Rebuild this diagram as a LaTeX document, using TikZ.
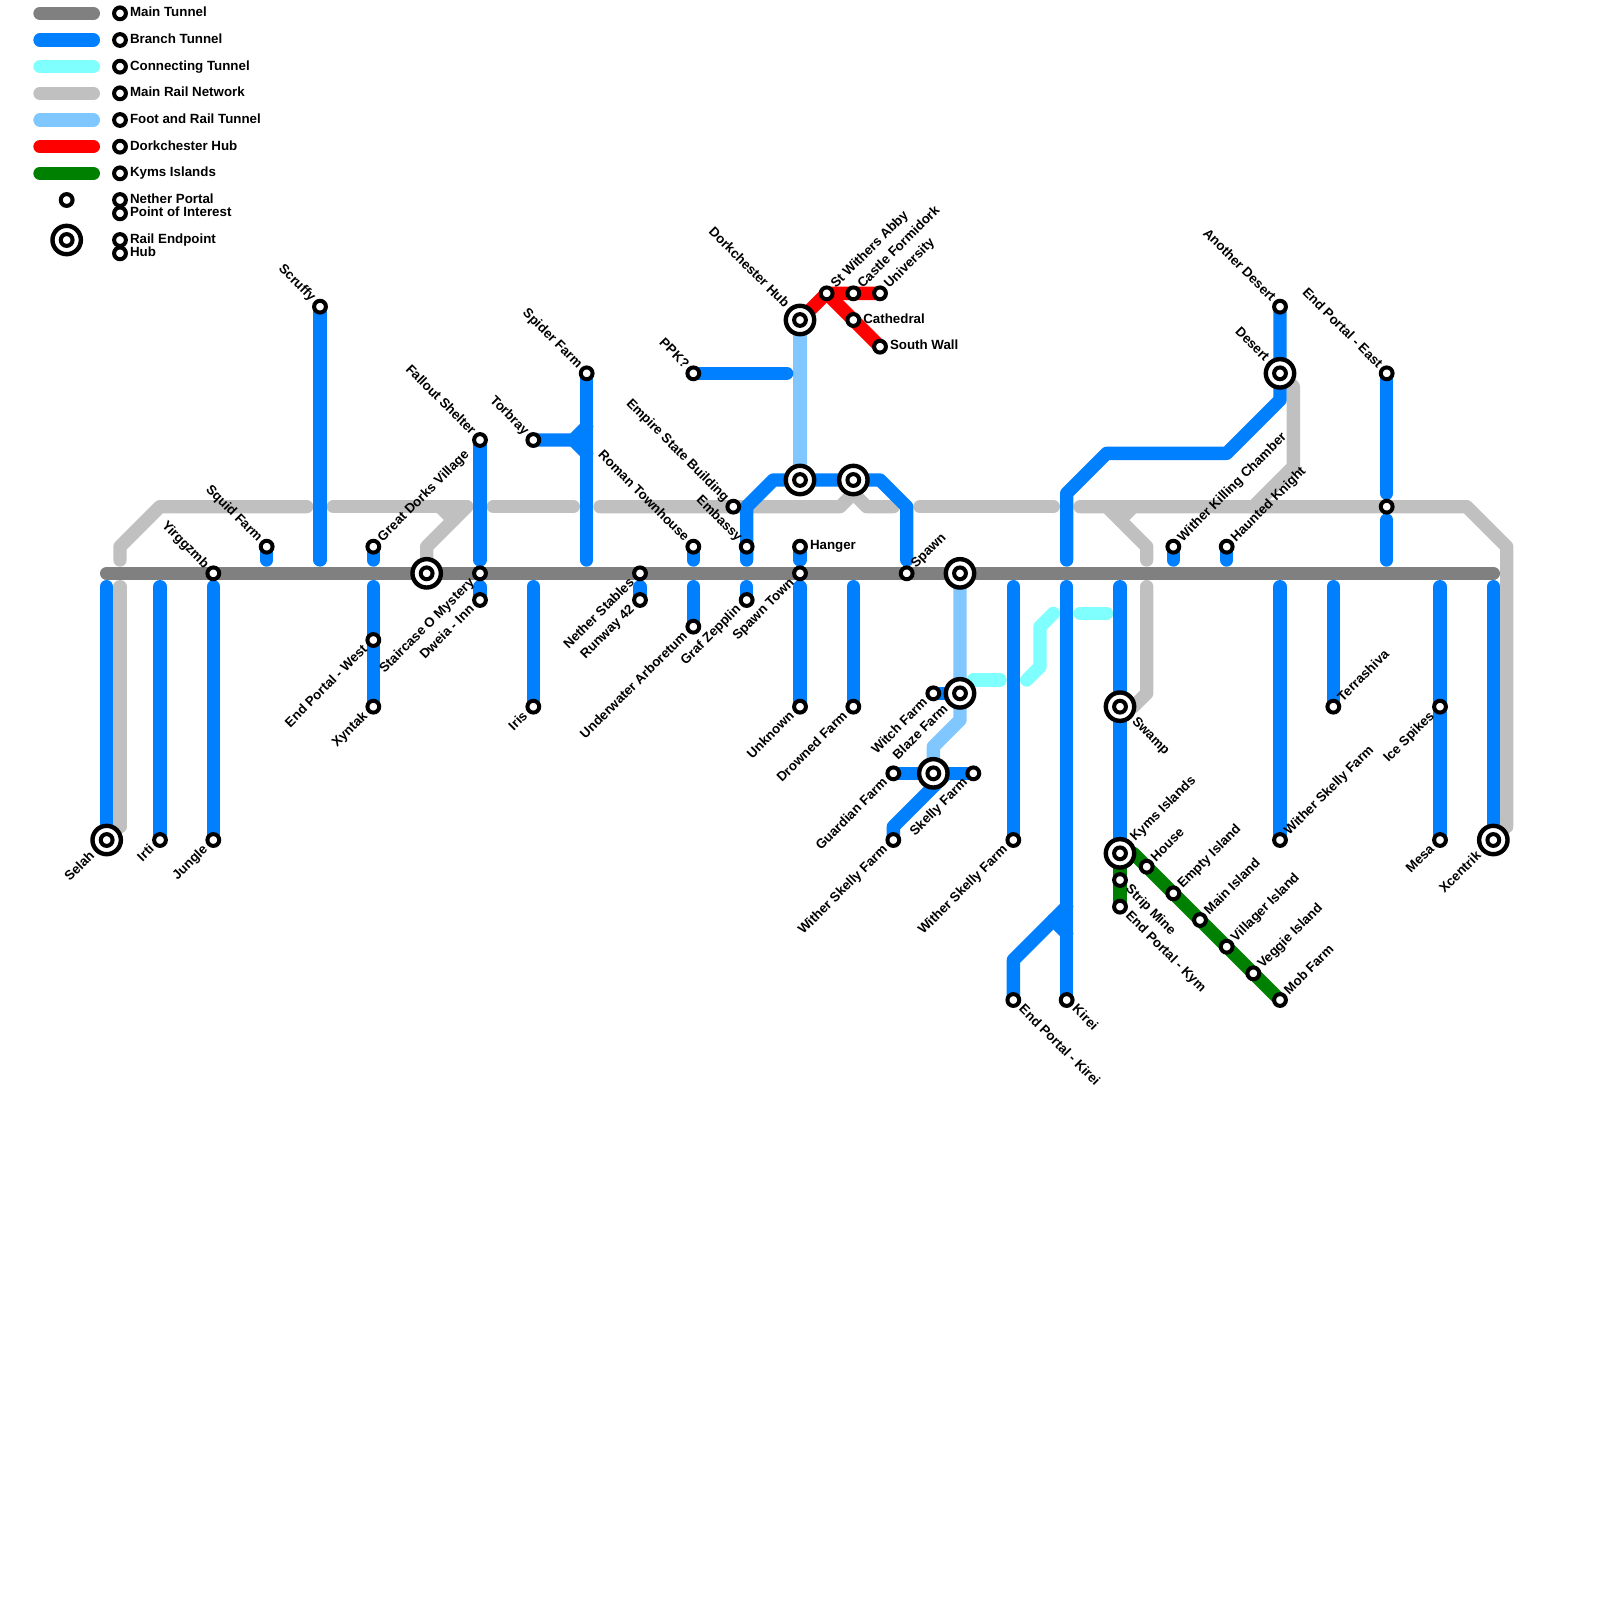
\documentclass[tikz,border=0pt]{standalone}
\usepackage{fontspec}
\setmainfont{Liberation Sans}
\usetikzlibrary{backgrounds}
\definecolor{mainc}{HTML}{808080}
\definecolor{branchc}{HTML}{0080FF}
\definecolor{connc}{HTML}{80FFFF}
\definecolor{railc}{HTML}{C0C0C0}
\definecolor{footc}{HTML}{80C6FF}
\definecolor{redc}{HTML}{FF0000}
\definecolor{greenc}{HTML}{008000}
\tikzset{
  x=13.3333pt,y=-13.3333pt,
  tube/.style={line width=13.333pt,line cap=round,line join=round},
  maint/.style={tube,draw=mainc},
  brancht/.style={tube,draw=branchc},
  connt/.style={tube,draw=connc},
  railt/.style={tube,draw=railc},
  foott/.style={tube,draw=footc},
  redt/.style={tube,draw=redc},
  greent/.style={tube,draw=greenc},
  stn/.style={circle,draw=black,fill=white,line width=4pt,minimum size=11.8pt,inner sep=0pt,outer sep=0pt},
  hubo/.style={circle,draw=black,fill=white,line width=4.4pt,minimum size=28.4pt,inner sep=0pt,outer sep=0pt},
  lbl/.style={font=\bfseries\fontsize{13.33}{13.33}\selectfont,inner sep=0pt,outer sep=0pt,text height=9.5pt,text depth=2.5pt},
  NE/.style={lbl,xshift=7pt,yshift=7pt,rotate=45,anchor=west},
  NW/.style={lbl,xshift=-7pt,yshift=7pt,rotate=-45,anchor=east},
  SW/.style={lbl,xshift=-7.7pt,yshift=-7.7pt,rotate=45,anchor=east},
  SE/.style={lbl,xshift=7.5pt,yshift=-7.5pt,rotate=-45,anchor=west},
  EE/.style={lbl,xshift=10pt,yshift=0.5pt,anchor=west},
  NEh/.style={lbl,xshift=13pt,yshift=14pt,rotate=45,anchor=west},
  NWh/.style={lbl,xshift=-13.5pt,yshift=14pt,rotate=-45,anchor=east},
  SWh/.style={lbl,xshift=-14pt,yshift=-14pt,rotate=45,anchor=east},
  SEh/.style={lbl,xshift=14pt,yshift=-13pt,rotate=-45,anchor=west},
}
\newcommand{\Sta}[4]{\node[stn] (#1) at (#2) {}; \node[#3] (#1L) at (#1.center) {#4};}
\newcommand{\Bare}[2]{\node[stn] (#1) at (#2) {};}
\newcommand{\Hub}[4]{\node[hubo] (#1) at (#2) {}; \node[stn] (#1I) at (#2) {}; \node[#3] (#1L) at (#1.center) {#4};}
\newcommand{\BareHub}[2]{\node[hubo] (#1) at (#2) {}; \node[stn] (#1I) at (#2) {};}
\newcommand{\Leg}[4]{\coordinate (#1a) at (3,#2); \coordinate (#1b) at (7,#2); \draw[#3] (#1a) -- (#1b); \node[stn] (#1s) at (9,#2) {}; \node[lbl,anchor=west] (#1t) at (9.75,#2) {#4};}
\begin{document}
\begin{tikzpicture}
\useasboundingbox (0,0) rectangle (120,120);
% legend
\Leg{la}{1}{maint}{Main Tunnel}
\Leg{lb}{3}{brancht}{Branch Tunnel}
\Leg{lc}{5}{connt}{Connecting Tunnel}
\Leg{ld}{7}{railt}{Main Rail Network}
\Leg{le}{9}{foott}{Foot and Rail Tunnel}
\Leg{lf}{11}{redt}{Dorkchester Hub}
\Leg{lg}{13}{greent}{Kyms Islands}
\node[stn] (lhS) at (5,15) {};
\node[stn] (lh1) at (9,15) {};
\node[lbl,anchor=west] (lh1t) at (9.75,15) {Nether Portal};
\node[stn] (lh2) at (9,16) {};
\node[lbl,anchor=west] (lh2t) at (9.75,16) {Point of Interest};
\BareHub{liH}{5,18}
\node[stn] (li1) at (9,18) {};
\node[lbl,anchor=west] (li1t) at (9.75,18) {Rail Endpoint};
\node[stn] (li2) at (9,19) {};
\node[lbl,anchor=west] (li2t) at (9.75,19) {Hub};
% stations
\Hub{selah}{8,63}{SWh}{Selah}
\Sta{irti}{12,63}{SW}{Irti}
\Sta{jungle}{16,63}{SW}{Jungle}
\Sta{yirg}{16,43}{NW}{Yirggzmb}
\Sta{squid}{20,41}{NW}{Squid Farm}
\Sta{scruffy}{24,23}{NW}{Scruffy}
\Sta{dorks}{28,41}{NE}{Great Dorks Village}
\Sta{epwest}{28,48}{SW}{End Portal - West}
\Sta{xyntak}{28,53}{SW}{Xyntak}
\BareHub{railA}{32,43}
\Sta{stair}{36,43}{SW}{Staircase O Mystery}
\Sta{dweia}{36,45}{SW}{Dweia - Inn}
\Sta{fallout}{36,33}{NW}{Fallout Shelter}
\Sta{iris}{40,53}{SW}{Iris}
\Sta{torbray}{40,33}{NW}{Torbray}
\Sta{spider}{44,28}{NW}{Spider Farm}
\Sta{nether}{48,43}{SW}{Nether Stables}
\Sta{runway}{48,45}{SW}{Runway 42}
\Sta{roman}{52,41}{NW}{Roman Townhouse}
\Sta{arbor}{52,47}{SW}{Underwater Arboretum}
\Sta{ppk}{52,28}{NW}{PPK?}
\Sta{empire}{55,38}{NW}{Empire State Building}
\Sta{embassy}{56,41}{NW}{Embassy}
\Sta{graf}{56,45}{SW}{Graf Zepplin}
\Sta{hanger}{60,41}{EE}{Hanger}
\Sta{spawnt}{60,43}{SW}{Spawn Town}
\Sta{unknown}{60,53}{SW}{Unknown}
\Sta{drowned}{64,53}{SW}{Drowned Farm}
\Sta{spawn}{68,43}{NE}{Spawn}
\Hub{dork}{60,24}{NWh}{Dorkchester Hub}
\BareHub{hubB}{60,36}
\BareHub{hubC}{64,36}
\Sta{abby}{62,22}{NE}{St Withers Abby}
\Sta{castle}{64,22}{NE}{Castle Formidork}
\Sta{univ}{66,22}{NE}{University}
\Sta{cathed}{64,24}{EE}{Cathedral}
\Sta{south}{66,26}{EE}{South Wall}
\BareHub{hubD}{72,43}
\Hub{blaze}{72,52}{SWh}{Blaze Farm}
\Sta{witch}{70,52}{SW}{Witch Farm}
\BareHub{hubE}{70,58}
\Sta{guardian}{67,58}{SW}{Guardian Farm}
\Sta{skelly}{73,58}{SW}{Skelly Farm}
\Sta{wsfA}{67,63}{SW}{Wither Skelly Farm}
\Sta{wsfB}{76,63}{SW}{Wither Skelly Farm}
\Sta{epkirei}{76,75}{SE}{End Portal - Kirei}
\Sta{kirei}{80,75}{SE}{Kirei}
\Hub{swamp}{84,53}{SEh}{Swamp}
\Hub{kyms}{84,64}{NEh}{Kyms Islands}
\Sta{strip}{84,66}{SE}{Strip Mine}
\Sta{epkym}{84,68}{SE}{End Portal - Kym}
\Sta{house}{86,65}{NE}{House}
\Sta{empty}{88,67}{NE}{Empty Island}
\Sta{mainis}{90,69}{NE}{Main Island}
\Sta{villager}{92,71}{NE}{Villager Island}
\Sta{veggie}{94,73}{NE}{Veggie Island}
\Sta{mob}{96,75}{NE}{Mob Farm}
\Sta{wkc}{88,41}{NE}{Wither Killing Chamber}
\Sta{haunted}{92,41}{NE}{Haunted Knight}
\Sta{another}{96,23}{NW}{Another Desert}
\Hub{desert}{96,28}{NWh}{Desert}
\Sta{epeast}{104,28}{NW}{End Portal - East}
\Bare{eastmid}{104,38}
\Sta{wsfC}{96,63}{NE}{Wither Skelly Farm}
\Sta{terra}{100,53}{NE}{Terrashiva}
\Sta{ice}{108,53}{SW}{Ice Spikes}
\Sta{mesa}{108,63}{SW}{Mesa}
\Hub{xcen}{112,63}{SWh}{Xcentrik}
% free ends
\coordinate (mA) at (8,43); \coordinate (mB) at (112,43);
\coordinate (e08) at (8,44); \coordinate (e09) at (9,44); \coordinate (e09b) at (9,62);
\coordinate (e09c) at (9,42); \coordinate (e12) at (12,44); \coordinate (e16) at (16,44);
\coordinate (e20) at (20,42); \coordinate (e24) at (24,42); \coordinate (e28a) at (28,42);
\coordinate (e28b) at (28,44); \coordinate (e36a) at (36,42); \coordinate (e36b) at (36,44);
\coordinate (e40) at (40,44); \coordinate (e44) at (44,42); \coordinate (e48) at (48,44);
\coordinate (e52a) at (52,42); \coordinate (e52b) at (52,44); \coordinate (e56a) at (56,42);
\coordinate (e56b) at (56,44); \coordinate (e59) at (59,28); \coordinate (e60a) at (60,42);
\coordinate (e60b) at (60,44); \coordinate (e64) at (64,44); \coordinate (e68) at (68,42);
\coordinate (e76) at (76,44); \coordinate (e80a) at (80,44); \coordinate (e80b) at (80,42);
\coordinate (e84) at (84,44); \coordinate (e86a) at (86,44); \coordinate (e86b) at (86,42);
\coordinate (e88) at (88,42); \coordinate (e92) at (92,42); \coordinate (e96) at (96,44);
\coordinate (e100) at (100,44); \coordinate (e104a) at (104,37); \coordinate (e104b) at (104,39);
\coordinate (e104c) at (104,42); \coordinate (e108) at (108,44); \coordinate (e112) at (112,44);
\coordinate (e113) at (113,62); \coordinate (t1) at (44,32); \coordinate (t2) at (44,34);
\coordinate (r1) at (23,38); \coordinate (r2) at (25,38); \coordinate (r3) at (35,38);
\coordinate (r4) at (37,38); \coordinate (r5) at (43,38); \coordinate (r6) at (45,38);
\coordinate (r7) at (67,38); \coordinate (r8) at (69,38); \coordinate (r9) at (79,38);
\coordinate (r10) at (81,38); \coordinate (r11) at (94,38); \coordinate (r12) at (33,38);
\coordinate (r13) at (32,42); \coordinate (r14) at (85,38); \coordinate (r15) at (83,38);
\coordinate (c1) at (73,51); \coordinate (c2) at (75,51); \coordinate (c3) at (77,51);
\coordinate (c4) at (79,46); \coordinate (c5) at (81,46); \coordinate (c6) at (83,46);
\coordinate (k1) at (79,69); \coordinate (k2) at (80,70); \coordinate (g1) at (85,64);
\begin{pgfonlayer}{background}
% rail
\draw[railt] (e09) -- (e09b);
\draw[railt] (e09c) -- (9,41) -- (12,38) -- (r1);
\draw[railt] (r2) -- (r3);
\draw[railt] (r3) -- (32,41) -- (r13);
\draw[railt] (r12) -- (34,39);
\draw[railt] (r4) -- (r5);
\draw[railt] (r6) -- (63,38) -- (64,37) -- (65,38) -- (r7);
\draw[railt] (r8) -- (r9);
\draw[railt] (r10) -- (110,38) -- (113,41) -- (e113);
\draw[railt] (r15) -- (86,41) -- (e86b);
\draw[railt] (r14) -- (84,39);
\draw[railt] (desert.center) -- (97,29) -- (97,35) -- (r11);
\draw[railt] (e86a) -- (86,52) -- (85,53) -- (swamp.center);
% foot and rail
\draw[foott] (dork.center) -- (hubB.center);
\draw[foott] (hubD.center) -- (72,54) -- (70,56) -- (hubE.center);
% connecting
\draw[connt] (c1) -- (c2);
\draw[connt] (c3) -- (78,50) -- (78,47) -- (c4);
\draw[connt] (c5) -- (c6);
% kyms and red
\draw[greent] (kyms.center) -- (epkym.center);
\draw[greent] (g1) -- (mob.center);
\draw[redt] (dork.center) -- (abby.center) -- (univ.center);
\draw[redt] (abby.center) -- (south.center);
% branch
\draw[brancht] (e08) -- (selah.center);
\draw[brancht] (e12) -- (irti.center);
\draw[brancht] (e16) -- (jungle.center);
\draw[brancht] (squid.center) -- (e20);
\draw[brancht] (scruffy.center) -- (e24);
\draw[brancht] (dorks.center) -- (e28a);
\draw[brancht] (e28b) -- (xyntak.center);
\draw[brancht] (fallout.center) -- (e36a);
\draw[brancht] (e36b) -- (dweia.center);
\draw[brancht] (e40) -- (iris.center);
\draw[brancht] (spider.center) -- (e44);
\draw[brancht] (torbray.center) -- (43,33) -- (t1);
\draw[brancht] (43,33) -- (t2);
\draw[brancht] (e48) -- (runway.center);
\draw[brancht] (roman.center) -- (e52a);
\draw[brancht] (e52b) -- (arbor.center);
\draw[brancht] (ppk.center) -- (e59);
\draw[brancht] (e56a) -- (56,38) -- (58,36) -- (66,36) -- (68,38) -- (e68);
\draw[brancht] (e56b) -- (graf.center);
\draw[brancht] (hanger.center) -- (e60a);
\draw[brancht] (e60b) -- (unknown.center);
\draw[brancht] (e64) -- (drowned.center);
\draw[brancht] (witch.center) -- (blaze.center);
\draw[brancht] (guardian.center) -- (skelly.center);
\draw[brancht] (71,58) -- (67,62) -- (wsfA.center);
\draw[brancht] (e76) -- (wsfB.center);
\draw[brancht] (e80a) -- (kirei.center);
\draw[brancht] (epkirei.center) -- (76,72) -- (80,68);
\draw[brancht] (k1) -- (k2);
\draw[brancht] (e80b) -- (80,37) -- (83,34) -- (92,34) -- (96,30) -- (another.center);
\draw[brancht] (e84) -- (kyms.center);
\draw[brancht] (wkc.center) -- (e88);
\draw[brancht] (haunted.center) -- (e92);
\draw[brancht] (e96) -- (wsfC.center);
\draw[brancht] (e100) -- (terra.center);
\draw[brancht] (epeast.center) -- (e104a);
\draw[brancht] (e104b) -- (e104c);
\draw[brancht] (e108) -- (mesa.center);
\draw[brancht] (e112) -- (xcen.center);
% main
\draw[maint] (mA) -- (mB);
\end{pgfonlayer}
\end{tikzpicture}
\end{document}
